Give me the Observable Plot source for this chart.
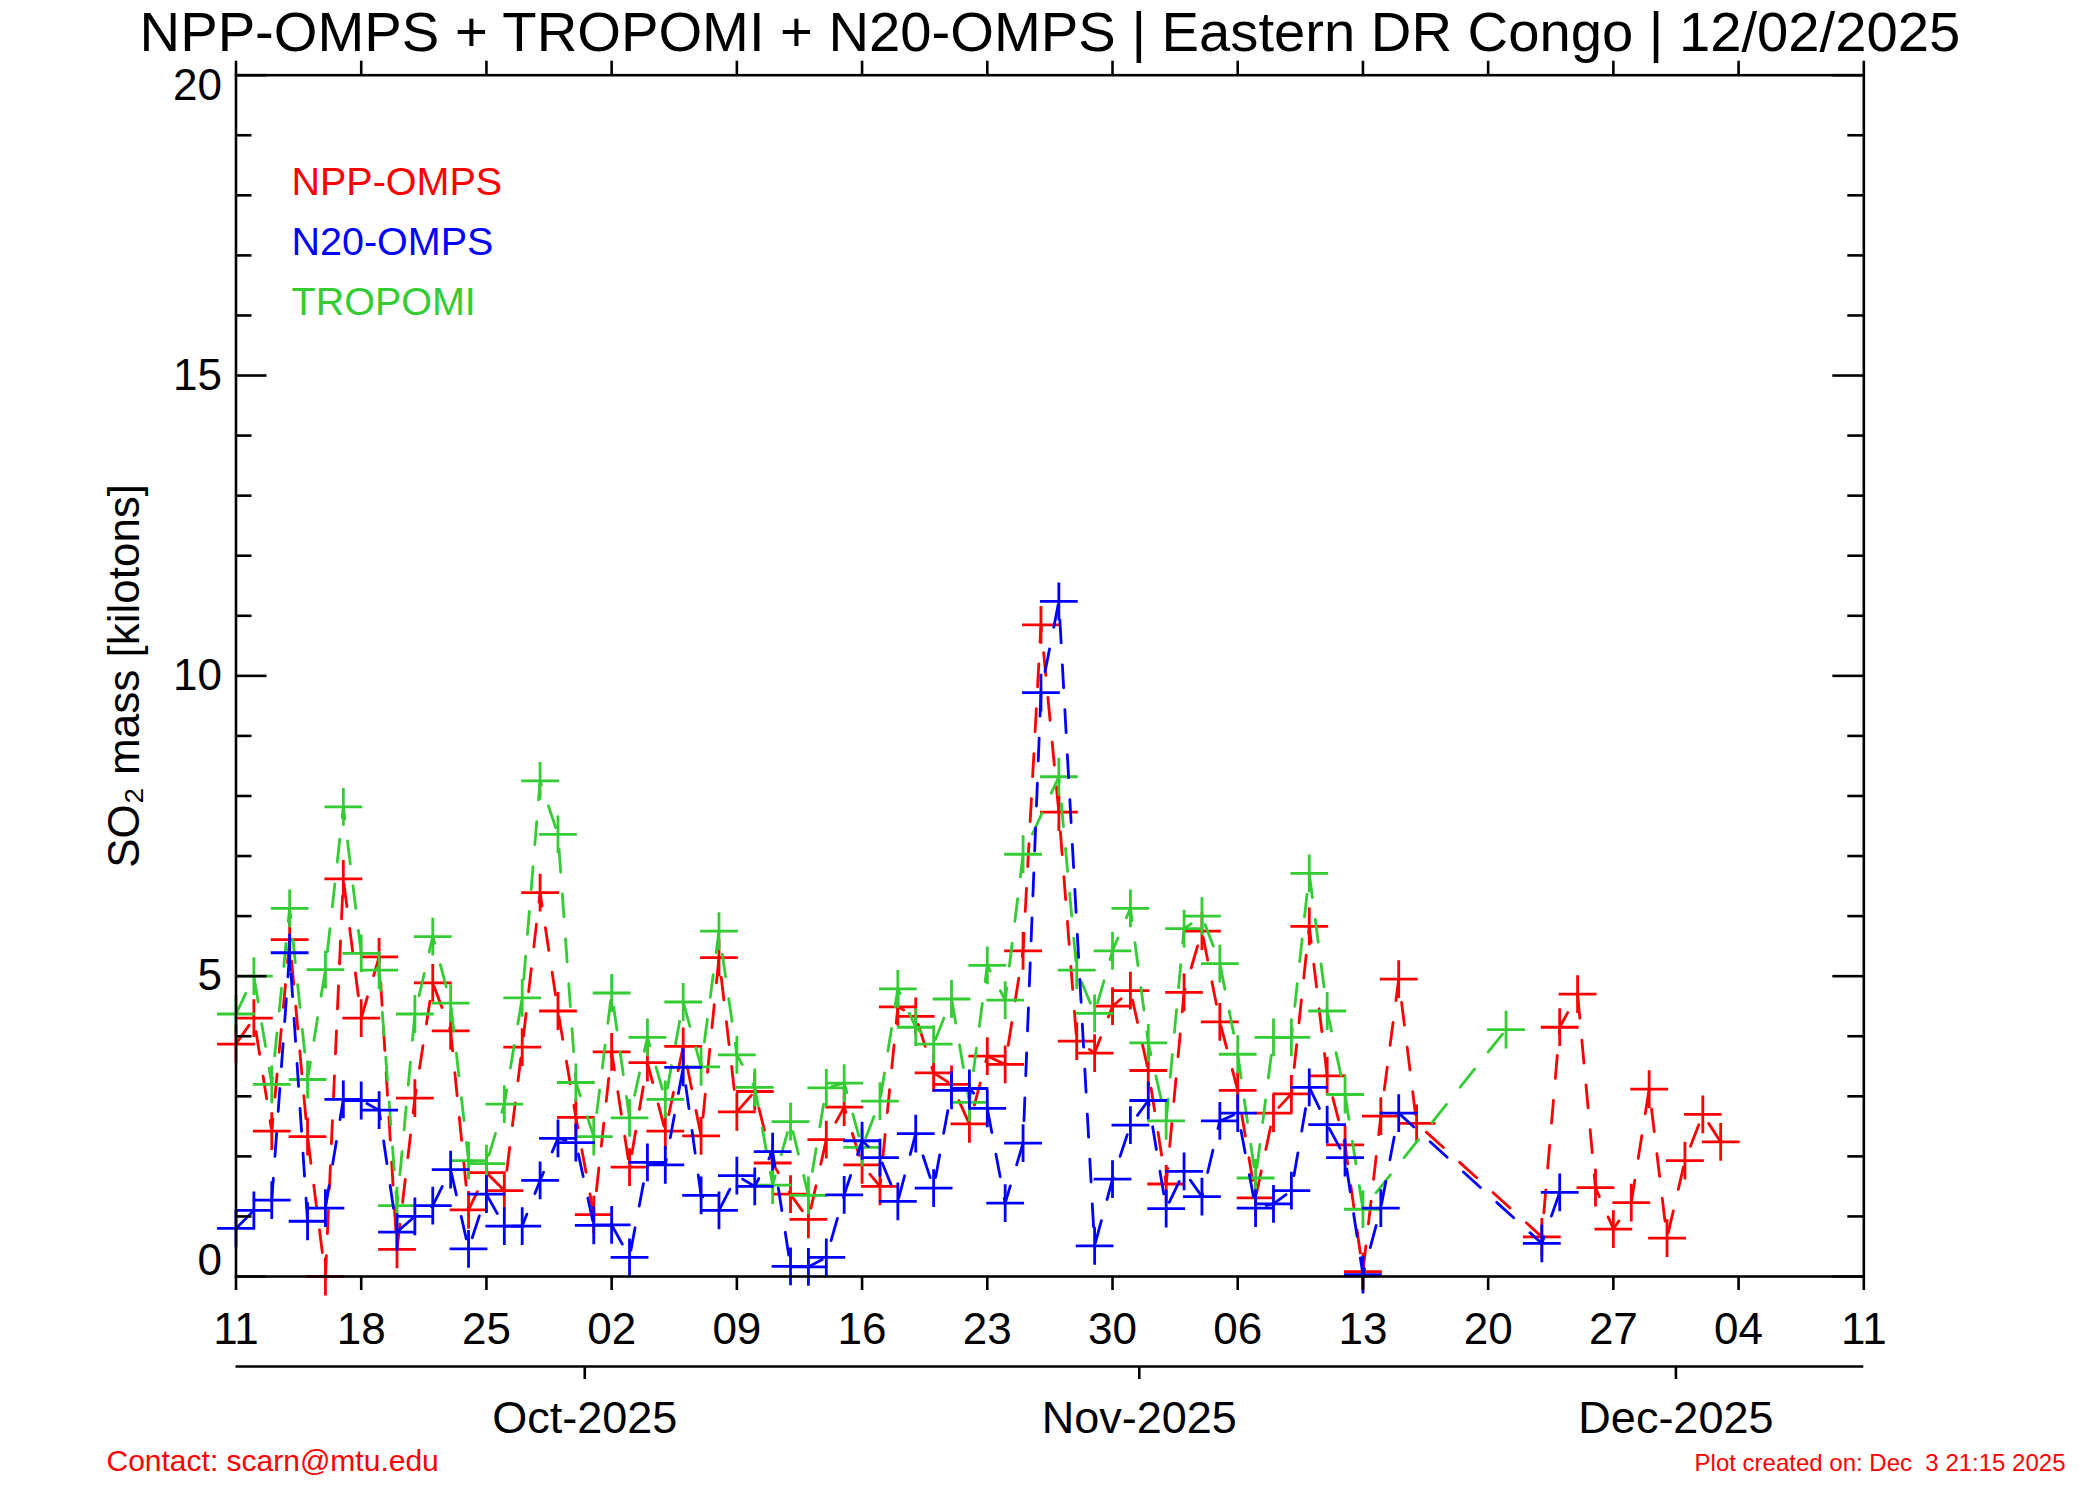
<!DOCTYPE html>
<html>
<head>
<meta charset="utf-8">
<script src="https://cdn.jsdelivr.net/npm/d3@7"></script>
<script src="https://cdn.jsdelivr.net/npm/@observablehq/plot@0.6"></script>
<style>
  body { margin: 0; background: #fff; }
  #chart { width: 2100px; height: 1500px; }
</style>
</head>
<body>
<div id="chart"></div>
<script>
// ---- data (day offsets from 2025-09-11) ----
const startDay = "2025-09-11";
const endDay = "2025-12-11";

const nppDays = [0,1,2,3,4,5,6,7,8,9,10,11,12,13,14,15,16,17,18,19,20,21,22,23,24,25,26,27,28,29,30,31,32,33,34,35,36,37,38,39,40,41,42,43,44,45,46,47,48,49,50,51,52,53,54,55,56,57,58,59,60,61,62,63,64,65,66,73,74,75,76,77,78,79,80,81,82,83];
const nppValues = [3.87,4.30,2.42,5.61,2.33,0.00,6.62,4.30,5.32,0.45,2.97,4.89,4.09,1.11,1.73,1.43,3.82,6.39,4.42,2.65,1.03,3.74,1.82,3.56,2.42,3.83,2.34,5.31,2.74,3.08,1.89,1.37,0.95,2.28,2.82,1.86,1.50,4.49,4.33,3.39,3.20,2.54,3.67,3.53,5.42,10.85,7.73,3.92,3.72,4.50,4.76,3.43,1.54,4.73,5.75,4.24,3.10,1.31,2.72,3.04,5.83,3.34,2.19,0.08,2.67,4.95,2.55,0.66,4.15,4.70,1.48,0.79,1.23,3.12,0.64,1.93,2.70,2.24];

const n20Days = [0,1,2,3,4,5,6,7,8,9,10,11,12,13,14,15,16,17,18,19,20,21,22,23,24,25,26,27,28,29,30,31,32,33,34,35,36,37,38,39,40,41,42,43,44,45,46,48,49,50,51,52,53,54,55,56,57,58,59,60,61,62,63,64,65,73,74];
const n20Values = [0.80,1.10,1.27,5.39,0.92,1.14,2.95,2.93,2.77,0.74,1.00,1.18,1.78,0.46,1.37,0.84,0.84,1.60,2.30,2.23,0.85,0.86,0.32,1.90,1.86,3.48,1.35,1.10,1.68,1.50,2.08,0.17,0.16,0.32,1.36,2.26,1.98,1.25,2.38,1.47,3.10,3.13,2.80,1.22,2.22,9.72,11.24,0.51,1.62,2.52,2.93,1.13,1.75,1.33,2.59,2.72,1.14,1.21,1.43,3.15,2.53,1.98,0.03,1.14,2.72,0.55,1.40];

const tropomiDays = [0,1,2,3,4,5,6,7,8,9,10,11,12,13,14,15,16,17,18,19,20,21,22,23,24,25,26,27,28,29,30,31,32,33,34,35,36,37,38,39,40,41,42,43,44,46,47,48,49,50,51,52,53,54,55,56,57,58,59,60,61,62,63,71];
const tropomiValues = [4.37,5.00,3.20,6.13,3.28,5.11,7.82,5.38,5.10,1.18,4.37,5.66,4.55,1.93,1.88,2.87,4.64,8.25,7.36,3.23,2.33,4.72,2.64,3.98,2.95,4.57,3.49,5.75,3.69,3.15,1.52,2.58,1.35,3.14,3.22,2.15,2.92,4.79,4.15,3.87,4.62,2.90,5.18,4.60,7.03,8.32,5.10,4.38,5.42,6.13,3.89,2.59,5.79,6.00,5.21,3.70,1.64,3.98,3.98,6.71,4.42,3.03,1.12,4.11];

const weekTickDays = [0,7,14,21,28,35,42,49,56,63,70,77,84,91];
const weekTickLabels = ["11","18","25","02","09","16","23","30","06","13","20","27","04","11"];
const monthTickDates = ["2025-10-01","2025-11-01","2025-12-01"];
const monthTickLabels = ["Oct-2025","Nov-2025","Dec-2025"];
const yMajorTicks = [0,5,10,15,20];
const yMinorTicks = [1,2,3,4,6,7,8,9,11,12,13,14,16,17,18,19];

const seriesNames = ["NPP-OMPS","N20-OMPS","TROPOMI"];
const seriesColors = ["#ff0000","#0000ff","#33cc33"];

const titleText = "NPP-OMPS + TROPOMI + N20-OMPS | Eastern DR Congo | 12/02/2025";
const yLabel = "SO\u2082 mass [kilotons]";
const contactText = "Contact: scarn@mtu.edu";
const createdText = "Plot created on: Dec \u00a03 21:15 2025";

// ---- build ----
const t0 = Date.parse(startDay + "T00:00:00Z");
const toDate = d => new Date(t0 + d * 86400000);
const rows = (days, values) => days.map((d, i) => ({date: toDate(d), value: values[i]}));
const npp = rows(nppDays, nppValues);
const n20 = rows(n20Days, n20Values);
const tropomi = rows(tropomiDays, tropomiValues);

const weekTicks = weekTickDays.map(toDate);
const weekLabel = new Map(weekTicks.map((d, i) => [+d, weekTickLabels[i]]));
const monthTicks = monthTickDates.map(s => new Date(s + "T00:00:00Z"));
const monthLabel = new Map(monthTicks.map((d, i) => [+d, monthTickLabels[i]]));

const W = 2100, H = 1500;
const mL = 235.5, mR = 236.7, mT = 74.7, mB = 224;
const innerW = W - mL - mR;
const SW = 2.6;
const FONT = "'Liberation Sans', Arial, Helvetica, sans-serif";

const seriesMarks = (data, color) => [
  Plot.line(data, {x: "date", y: "value", stroke: color, strokeWidth: 2.8, strokeDasharray: "23,22"}),
  Plot.dot(data, {x: "date", y: "value", symbol: "plus", r: 12.2, stroke: color, strokeWidth: 2.8})
];

const chart = Plot.plot({
  width: W, height: H,
  marginLeft: mL, marginRight: mR, marginTop: mT, marginBottom: mB,
  style: {fontFamily: FONT, background: "#fff", color: "#000", overflow: "visible"},
  x: {type: "utc", domain: [new Date(startDay + "T00:00:00Z"), new Date(endDay + "T00:00:00Z")]},
  y: {domain: [0, 20]},
  marks: [
    ...seriesMarks(npp, seriesColors[0]),
    ...seriesMarks(tropomi, seriesColors[2]),
    ...seriesMarks(n20, seriesColors[1]),
    Plot.frame({stroke: "#000", strokeWidth: SW}),
    Plot.tickY(yMajorTicks, {y: d => d, insetRight: innerW - 31, stroke: "#000", strokeWidth: SW}),
    Plot.tickY(yMajorTicks, {y: d => d, insetLeft: innerW - 31, stroke: "#000", strokeWidth: SW}),
    Plot.tickY(yMinorTicks, {y: d => d, insetRight: innerW - 16, stroke: "#000", strokeWidth: SW}),
    Plot.tickY(yMinorTicks, {y: d => d, insetLeft: innerW - 16, stroke: "#000", strokeWidth: SW}),
    Plot.axisX({anchor: "bottom", ticks: weekTicks, tickSize: 14, tickPadding: 22, strokeWidth: SW,
      tickFormat: d => weekLabel.get(+d), fontSize: 44, label: null}),
    Plot.axisX({anchor: "top", ticks: weekTicks, tickSize: 15, strokeWidth: SW,
      tickFormat: () => "", label: null}),
    Plot.ruleY([0], {dy: 90, stroke: "#000", strokeWidth: SW}),
    Plot.axisX({anchor: "bottom", ticks: monthTicks, dy: 90, dx: -9, tickSize: 13, tickPadding: 22, strokeWidth: SW,
      tickFormat: d => monthLabel.get(+d), fontSize: 45, label: null}),
    Plot.axisY({anchor: "left", ticks: [5, 10, 15], tickSize: 0, tickPadding: 14, fontSize: 44,
      label: yLabel, labelAnchor: "center", labelOffset: 128, labelArrow: "none"}),
    Plot.text([0], {y: d => d, text: d => String(d), frameAnchor: "left", dx: -14, dy: -16, textAnchor: "end", fontSize: 44}),
    Plot.text([20], {y: d => d, text: d => String(d), frameAnchor: "left", dx: -14, dy: 11, textAnchor: "end", fontSize: 44}),
    Plot.text([seriesNames[0]], {frameAnchor: "top-left", dx: 55.5, dy: 120, lineAnchor: "bottom", textAnchor: "start", fill: seriesColors[0], fontSize: 39.5}),
    Plot.text([seriesNames[1]], {frameAnchor: "top-left", dx: 55.5, dy: 180, lineAnchor: "bottom", textAnchor: "start", fill: seriesColors[1], fontSize: 39.5}),
    Plot.text([seriesNames[2]], {frameAnchor: "top-left", dx: 55.5, dy: 240, lineAnchor: "bottom", textAnchor: "start", fill: seriesColors[2], fontSize: 39.5}),
    Plot.text([titleText], {frameAnchor: "top", dy: -24, lineAnchor: "bottom", fontSize: 56.2, fill: "#000"}),
    Plot.text([contactText], {frameAnchor: "bottom-left", dx: -129.5, dy: 194, lineAnchor: "bottom", textAnchor: "start", fill: "#ff0000", fontSize: 30}),
    Plot.text([createdText], {frameAnchor: "bottom-right", dx: 201.7, dy: 194, lineAnchor: "bottom", textAnchor: "end", fill: "#ff0000", fontSize: 24})
  ]
});
document.getElementById("chart").appendChild(chart);
</script>
</body>
</html>
